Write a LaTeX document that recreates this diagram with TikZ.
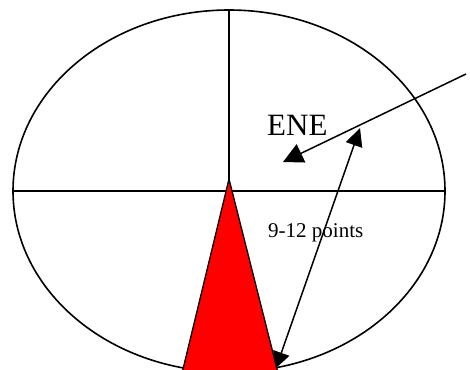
\documentclass[tikz,border=0pt]{standalone}
\usepackage{fontspec}
\setmainfont{Liberation Serif}
\usetikzlibrary{arrows.meta}
\definecolor{pureRed}{RGB}{255,0,0}
\begin{document}
\begin{tikzpicture}[x=1pt,y=-1pt,
  outline/.style={line width=1.6pt},
  divider/.style={line width=1.4pt},
  pointer/.style={line width=1.5pt,-{Triangle[length=20pt,width=20pt]}},
  span/.style={line width=1.5pt,{Triangle[length=16pt,width=17pt]}-{Triangle[length=18pt,width=17pt]}},
  label/.style={inner sep=0pt,anchor=base west}]
\useasboundingbox (0,0) rectangle (470,369);
\clip (0,0) rectangle (470,369);
\coordinate (c) at (229,191);
\coordinate (top) at (229,10);
\coordinate (left) at (13,191);
\coordinate (right) at (445,191);
\draw[outline] (c) ellipse [x radius=216, y radius=181];
\draw[divider] (top) -- (c);
\draw[divider] (left) -- (right);
\coordinate (apex) at (229,179);
\coordinate (bl) at (182.3,372);
\coordinate (br) at (277.8,372);
\fill[pureRed] (bl) -- (apex) -- (br) -- cycle;
\draw[line width=1.3pt] (bl) -- (apex) -- (br);
\coordinate (p1) at (466,74);
\coordinate (p2) at (283,162);
\draw[pointer] (p1) -- (p2);
\coordinate (q1) at (276,368);
\coordinate (q2) at (360,128);
\draw[span] (q1) -- (q2);
\node[label,font=\fontsize{31}{31}\selectfont] (ene) at (267,135) {ENE};
\node[label,font=\fontsize{21}{21}\selectfont] (pts) at (268,237) {9-12 points};
\end{tikzpicture}
\end{document}
